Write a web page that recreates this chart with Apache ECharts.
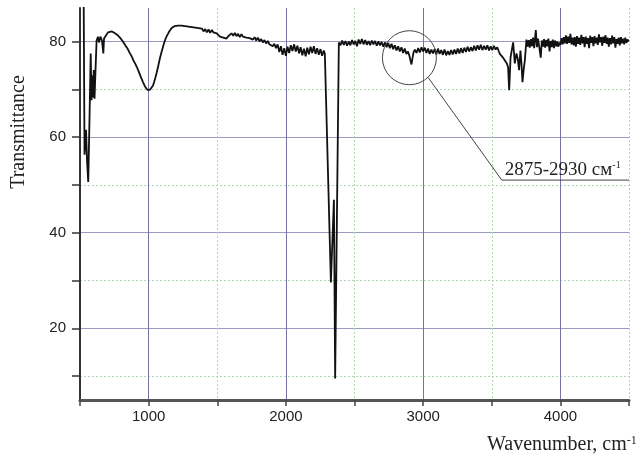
<!DOCTYPE html>
<html>
<head>
<meta charset="utf-8">
<title>IR spectrum</title>
<script src="https://cdn.jsdelivr.net/npm/echarts@6.0.0/dist/echarts.min.js"></script>
<style>
  body { margin: 0; background: #fff; }
  #main { width: 641px; height: 459px; }
</style>
</head>
<body>
<div id="main"></div>
<script>
// [wavenumber (cm-1), transmittance], region by region
var lowEdge = [
    [525, 98], [533, 56.3], [544, 61.5], [551, 55.2], [560, 50.6], [569, 63.5], [578, 77.5],
    [584, 67.7], [590, 72.9], [595, 68.3], [600, 74], [606, 68], [613, 74], [621, 80.2],
    [631, 81], [638, 79.8], [649, 81], [660, 80.2], [670, 77.5], [675, 80.6], [689, 81],
    [704, 81.9], [718, 82.3], [733, 82.1], [755, 81.7]
];

var band1000 = [
    [775, 81.3], [791, 80.8], [810, 80.1], [830, 79.2], [848, 78.4], [864, 77.5], [878, 76.8],
    [890, 76.0], [903, 75.3], [915, 74.6], [928, 73.7], [940, 72.8], [950, 72.1], [959, 71.5],
    [970, 70.8], [980, 70.3], [988, 70.0], [995, 69.8], [1003, 69.7], [1010, 69.9], [1020, 70.2],
    [1032, 70.8], [1041, 71.6], [1050, 72.5], [1059, 73.5], [1068, 74.6], [1077, 75.8], [1085, 76.8],
    [1095, 77.9], [1104, 78.8], [1112, 79.6], [1120, 80.3], [1130, 81.0], [1141, 81.6], [1150, 82.1],
    [1160, 82.5], [1168, 82.8], [1177, 83.0], [1188, 83.2], [1200, 82.9], [1214, 83.3], [1228, 82.9],
    [1240, 83.3], [1252, 82.9], [1265, 83.2], [1278, 82.8], [1290, 83.1], [1302, 82.7], [1315, 83.0],
    [1328, 82.6], [1340, 82.9], [1352, 82.5], [1364, 82.8], [1376, 82.4], [1388, 82.7], [1400, 82.1],
    [1412, 82.6], [1424, 81.9], [1436, 82.5], [1448, 81.8], [1460, 82.4], [1472, 81.9], [1484, 82.3],
    [1496, 81.7]
];

var plateau = [
    [1508, 81.6], [1520, 81.0], [1532, 81.4], [1544, 80.8], [1556, 81.2], [1568, 80.6], [1580, 81.1],
    [1592, 81.0], [1604, 81.7], [1616, 81.2], [1628, 81.8], [1640, 81.1], [1652, 81.6], [1664, 80.9],
    [1676, 81.5], [1688, 81.0], [1700, 81.3], [1712, 80.8], [1724, 81.2], [1736, 80.7], [1748, 81.0],
    [1760, 80.4], [1772, 80.9], [1784, 80.2], [1796, 80.8], [1808, 80.0], [1820, 80.5], [1832, 79.8],
    [1844, 80.3], [1856, 79.6], [1868, 80.1], [1880, 79.4], [1892, 79.6], [1904, 79.0], [1916, 79.5],
    [1928, 78.6], [1940, 79.4], [1952, 77.8], [1964, 79.0], [1976, 77.2], [1988, 78.6], [2000, 77.0],
    [2012, 78.9], [2024, 77.6], [2036, 79.2], [2048, 78.0], [2060, 79.4], [2072, 77.9], [2084, 79.1],
    [2096, 77.5], [2108, 78.8], [2120, 77.1], [2132, 78.5], [2144, 76.9], [2156, 78.7], [2168, 77.3],
    [2180, 78.9], [2192, 77.6], [2204, 79.0], [2216, 77.4], [2228, 78.6], [2240, 77.2], [2252, 78.4],
    [2264, 77.0], [2276, 78.1], [2284, 77.4]
];

var co2Band = [
    [2328, 29.6], [2350, 46.9], [2359, 9.5], [2386, 79.8]
];

var chRegion = [
    [2398, 79.2], [2410, 80.2], [2422, 79.3], [2434, 80.1], [2446, 79.1], [2458, 80.0], [2470, 79.2],
    [2482, 80.3], [2494, 79.4], [2506, 80.1], [2518, 79.0], [2530, 80.4], [2542, 79.5], [2554, 80.5],
    [2566, 79.4], [2578, 80.3], [2590, 79.3], [2602, 80.1], [2614, 79.2], [2626, 80.2], [2638, 79.4],
    [2650, 80.1], [2662, 79.1], [2674, 80.0], [2686, 79.2], [2698, 79.9], [2710, 78.9], [2722, 79.8],
    [2734, 78.8], [2746, 79.7], [2758, 78.6], [2770, 79.5], [2782, 78.4], [2794, 79.2], [2806, 78.1],
    [2818, 79.0], [2830, 77.9], [2842, 78.8], [2854, 77.6], [2866, 78.5], [2878, 77.4], [2890, 77.9],
    [2900, 77.0], [2908, 76.0], [2915, 75.2], [2922, 76.4], [2930, 77.7], [2940, 78.3], [2952, 77.6],
    [2964, 78.6], [2976, 77.7], [2988, 78.8], [3000, 77.9], [3012, 78.7], [3024, 77.6], [3036, 78.5],
    [3048, 77.4], [3060, 78.3], [3072, 77.5], [3084, 78.4], [3096, 77.3], [3108, 78.5], [3120, 77.4],
    [3132, 78.2], [3144, 77.2], [3156, 78.3], [3168, 77.1], [3180, 78.0], [3192, 77.2], [3204, 78.2],
    [3216, 77.3], [3228, 78.3], [3240, 77.4], [3252, 78.5], [3264, 77.5], [3276, 78.6], [3288, 77.6],
    [3300, 78.7], [3312, 77.8], [3324, 78.9], [3336, 77.9], [3348, 78.8], [3360, 78.0], [3372, 79.1],
    [3384, 78.1], [3396, 79.2], [3408, 78.3], [3420, 79.3], [3432, 78.2], [3444, 79.1], [3456, 78.3],
    [3468, 79.2], [3480, 78.1], [3492, 79.0], [3504, 78.2], [3516, 79.1], [3528, 78.3], [3540, 78.8]
];

var highEnd = [
    [3552, 77.9], [3559, 77.4], [3572, 77.6], [3585, 76.5], [3595, 76.2], [3610, 75.4], [3619, 74.6],
    [3627, 69.8], [3637, 76.7], [3646, 78.2], [3656, 79.8], [3668, 75.4], [3680, 77.5], [3690, 76.3],
    [3699, 74.0], [3709, 78.1], [3716, 75.6], [3724, 71.5], [3733, 74.2], [3741, 76.0], [3753, 80.4],
    [3761, 78.9], [3769, 80.3], [3777, 78.7], [3785, 80.5], [3793, 79.0], [3801, 80.8], [3809, 78.6],
    [3821, 82.4], [3829, 78.8], [3837, 80.6], [3845, 79.1], [3857, 76.6], [3865, 80.2], [3873, 78.9],
    [3881, 80.5], [3889, 78.7], [3897, 80.3], [3905, 79.0], [3913, 80.6], [3921, 77.9], [3929, 80.1],
    [3937, 78.8], [3945, 80.4], [3953, 78.6], [3961, 80.2], [3969, 79.0], [3977, 80.0], [3985, 78.9],
    [3993, 79.8], [4001, 79.3], [4009, 80.7], [4017, 79.4], [4025, 80.9], [4033, 79.6], [4041, 81.3],
    [4049, 79.5], [4057, 81.0], [4065, 79.7], [4073, 81.6], [4081, 79.4], [4089, 80.8], [4097, 79.2],
    [4105, 80.9], [4113, 78.9], [4121, 81.1], [4129, 79.5], [4137, 80.8], [4145, 79.3], [4153, 81.4],
    [4161, 79.6], [4169, 80.9], [4177, 78.8], [4185, 81.0], [4193, 79.5], [4201, 80.7], [4209, 78.6],
    [4217, 81.2], [4225, 79.7], [4233, 80.9], [4241, 79.0], [4249, 81.1], [4257, 79.6], [4265, 80.8],
    [4273, 79.3], [4281, 81.5], [4289, 79.8], [4297, 80.9], [4305, 79.1], [4313, 81.0], [4321, 79.7],
    [4329, 81.3], [4337, 79.5], [4345, 80.8], [4353, 78.9], [4361, 80.7], [4369, 79.4], [4377, 81.2],
    [4385, 79.6], [4393, 80.9], [4401, 78.7], [4409, 80.5], [4417, 79.5], [4425, 80.8], [4433, 79.2],
    [4441, 80.9], [4449, 79.6], [4457, 80.6], [4465, 79.4], [4473, 80.8], [4481, 79.7], [4489, 80.4],
    [4497, 80.0]
];

var yTicks = [10, 20, 30, 40, 50, 60, 70, 80];
var yLabels = [20, 40, 60, 80];
var yMinor = [10, 30, 50, 70];

// circled band and where its call-out line bends
var calloutCenter = [2900, 76.6];
var calloutElbow = [3573, 51];
var calloutEnd = [4500, 51];
var calloutText = '2875-2930 см';

var spectrum = [].concat(lowEdge, band1000, plateau, co2Band, chRegion, highEnd);

var majorGridX = '#7474a4';
var majorGridY = '#9a9ac2';
var minorGrid = '#b2d6b2';
var clear = 'rgba(0,0,0,0)';

var chartDom = document.getElementById('main');
var myChart = echarts.init(chartDom);
var option;

option = {
    animation: false,
    backgroundColor: '#fff',
    grid: { left: 80, right: 12, top: 8, bottom: 59 },
    xAxis: [
        {
            type: 'value',
            min: 500,
            max: 4500,
            interval: 500,
            axisLine: { lineStyle: { color: '#555', width: 3 } },
            axisTick: { length: 6, lineStyle: { color: '#444', width: 1.5 } },
            axisLabel: {
                margin: 9,
                color: '#222',
                fontSize: 15,
                fontFamily: 'Liberation Sans',
                formatter: function (v) { return v % 1000 === 0 ? String(v) : ''; }
            },
            splitLine: { show: true, lineStyle: { color: [clear, majorGridX], width: 1 } }
        },
        {
            type: 'value',
            min: 500,
            max: 4500,
            interval: 500,
            position: 'top',
            axisLine: { show: false },
            axisTick: { show: false },
            axisLabel: { show: false },
            splitLine: { show: true, lineStyle: { color: [minorGrid, clear], type: [2, 2], width: 1 } }
        }
    ],
    yAxis: [
        {
            type: 'value',
            min: 5,
            max: 87,
            axisLine: { show: true, lineStyle: { color: '#333', width: 2 } },
            axisTick: { show: true, length: 8, customValues: yTicks, lineStyle: { color: '#333', width: 1.5 } },
            axisLabel: {
                margin: 14,
                color: '#222',
                fontSize: 15,
                fontFamily: 'Liberation Sans',
                customValues: yLabels
            },
            splitLine: { show: true, lineStyle: { color: [clear, majorGridY], width: 1 } }
        },
        {
            type: 'value',
            min: 5,
            max: 87,
            position: 'left',
            axisLine: { show: false },
            axisTick: { show: false, customValues: yMinor },
            axisLabel: { show: false },
            splitLine: { show: true, lineStyle: { color: minorGrid, type: [2, 2], width: 1 } }
        }
    ],
    series: [
        {
            type: 'line',
            data: spectrum,
            showSymbol: false,
            xAxisIndex: 0,
            yAxisIndex: 0,
            clip: true,
            lineStyle: { color: '#111', width: 1.8 },
            z: 5
        }
    ]
};

myChart.setOption(option);

// call-out drawn after layout so it follows the axes
var c = myChart.convertToPixel({ gridIndex: 0 }, calloutCenter);
var elbow = myChart.convertToPixel({ gridIndex: 0 }, calloutElbow);
var end = myChart.convertToPixel({ gridIndex: 0 }, calloutEnd);
var r = 27;
var a = 46.5 * Math.PI / 180;
var start = [c[0] + r * Math.cos(a), c[1] + r * Math.sin(a)];

myChart.setOption({
    graphic: [
        {
            type: 'circle',
            shape: { cx: c[0], cy: c[1], r: r },
            style: { fill: 'none', stroke: '#444', lineWidth: 1 },
            z: 10
        },
        {
            type: 'polyline',
            shape: { points: [start, elbow, end] },
            style: { fill: 'none', stroke: '#444', lineWidth: 1 },
            z: 10
        },
        {
            type: 'text',
            x: elbow[0] + 3,
            y: elbow[1] - 1,
            style: {
                text: calloutText + '{sup|-1}',
                fontSize: 19,
                fontFamily: 'Liberation Serif',
                fill: '#222',
                align: 'left',
                verticalAlign: 'bottom',
                rich: { sup: { fontSize: 10, fontFamily: 'Liberation Serif', fill: '#222', verticalAlign: 'top' } }
            },
            z: 10
        },
        {
            type: 'text',
            x: 19,
            y: 132,
            rotation: Math.PI / 2,
            style: {
                text: 'Transmittance',
                fontSize: 20,
                fontFamily: 'Liberation Serif',
                fill: '#222',
                align: 'center',
                verticalAlign: 'middle'
            }
        },
        {
            type: 'text',
            x: 487,
            y: 445,
            style: {
                text: 'Wavenumber, cm{sup|-1}',
                fontSize: 20,
                fontFamily: 'Liberation Serif',
                fill: '#222',
                align: 'left',
                verticalAlign: 'middle',
                rich: { sup: { fontSize: 12, fontFamily: 'Liberation Serif', fill: '#222', verticalAlign: 'top' } }
            }
        }
    ]
});
</script>
</body>
</html>
